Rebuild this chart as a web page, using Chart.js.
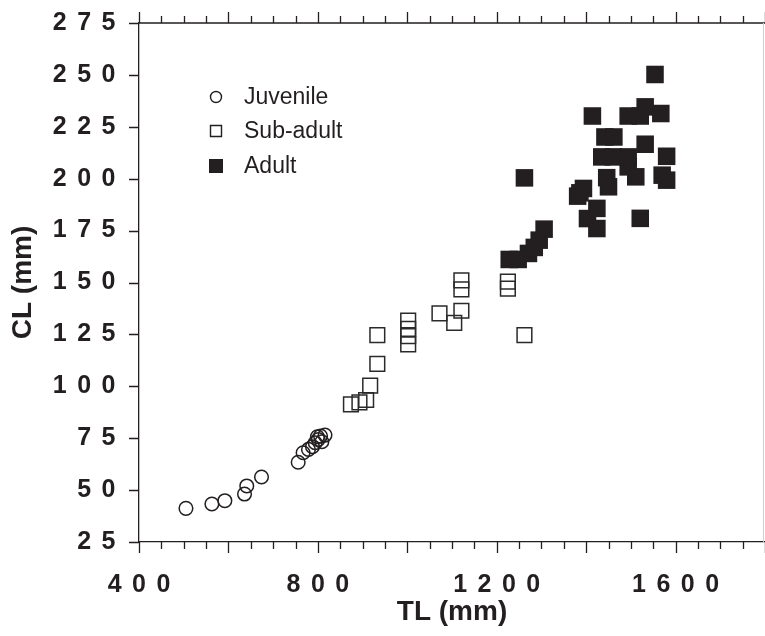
<!DOCTYPE html>
<html><head><meta charset="utf-8">
<script src="https://cdn.jsdelivr.net/npm/chart.js@4/dist/chart.umd.min.js"></script>
<style>html,body{margin:0;padding:0;background:#fff}#wrap{width:765px;height:636px}</style>
</head><body><div id="wrap"><canvas id="c" width="765" height="636"></canvas></div>
<script>
// ---- data ----
const seriesNames = ['Juvenile', 'Sub-adult', 'Adult'];
const juvTL = [505, 563, 592, 636, 641, 674, 756, 767, 779, 788, 794, 799, 801, 806, 809, 816];
const juvCL = [41.2, 43.3, 44.9, 48.1, 52.0, 56.3, 63.4, 68.0, 69.6, 70.9, 72.8, 75.7, 74.4, 76.0, 73.3, 76.5];
const subTL = [874, 893, 908, 917, 933, 933, 1002, 1002, 1002, 1002, 1072, 1105, 1121, 1121, 1121, 1225, 1225, 1262];
const subCL = [91.3, 92.3, 93.4, 100.3, 110.8, 124.7, 131.7, 127.7, 124.2, 120.2, 135.1, 130.6, 136.4, 151.0, 146.7, 150.4, 147.0, 124.7];
const adTL = [1228, 1248, 1271, 1284, 1295, 1306, 1262, 1381, 1386, 1394, 1403, 1424, 1424, 1446, 1450, 1414, 1435, 1442, 1462, 1461, 1494, 1494, 1494, 1511, 1521, 1521, 1532, 1532, 1554, 1567, 1570, 1580, 1580];
const adCL = [161.1, 161.1, 164.0, 166.9, 170.4, 175.7, 200.4, 191.6, 193.2, 195.3, 180.8, 185.7, 176.0, 200.5, 196.1, 230.2, 210.5, 220.1, 220.1, 210.5, 210.5, 205.7, 230.2, 200.9, 230.2, 180.9, 234.6, 216.6, 250.2, 231.4, 201.7, 210.8, 199.3];
const xTickLabels = [400, 800, 1200, 1600];
const xMinorStep = 50, xMajorStep = 200;
const yTickLabels = [25, 50, 75, 100, 125, 150, 175, 200, 225, 250, 275];
const xTitle = 'TL (mm)', yTitle = 'CL (mm)';

const INK = '#231f20';
const SPACING = 10.5;
const pts = (xs, ys) => xs.map((x, i) => ({x, y: ys[i]}));

const spacingPlugin = {
  id: 'spacing',
  afterDatasetsDraw(chart) { chart.ctx.letterSpacing = SPACING + 'px'; },
  afterDraw(chart) { chart.ctx.letterSpacing = '0px'; }
};

const framePlugin = {
  id: 'frame',
  afterDraw(chart) {
    const ctx = chart.ctx;
    const {left, right, top, bottom} = chart.chartArea;
    const xs = chart.scales.x, ys = chart.scales.y;
    ctx.save();
    ctx.letterSpacing = '0px';
    ctx.strokeStyle = INK; ctx.lineWidth = 1.3;
    ctx.beginPath();
    ctx.moveTo(left, top); ctx.lineTo(right, top);
    for (let v = xs.min; v <= xs.max; v += xMinorStep) {
      const px = Math.round(xs.getPixelForValue(v)) + 0.5;
      const len = (v % xMajorStep === 0) ? 11 : 7;
      ctx.moveTo(px, bottom); ctx.lineTo(px, bottom + len);
      ctx.moveTo(px, top); ctx.lineTo(px, top - len);
    }
    yTickLabels.forEach(v => {
      const py = Math.round(ys.getPixelForValue(v)) + 0.5;
      ctx.moveTo(left, py); ctx.lineTo(left - 10, py);
    });
    ctx.stroke();
    ctx.strokeStyle = '#cfcfcf'; ctx.lineWidth = 1;
    ctx.beginPath(); ctx.moveTo(right - 1.5, top); ctx.lineTo(right - 1.5, bottom); ctx.stroke();
    // legend
    const rows = [97, 131, 166];
    ctx.strokeStyle = INK;
    ctx.font = '23px "Liberation Sans", Arial, sans-serif';
    ctx.fillStyle = INK; ctx.textBaseline = 'middle'; ctx.textAlign = 'left';
    chart.data.datasets.forEach((ds, i) => {
      const cy = rows[i], cx = 216;
      ctx.beginPath();
      ctx.lineWidth = 1.4;
      if (i === 0) { ctx.arc(cx, cy, 5.5, 0, Math.PI * 2); ctx.stroke(); }
      else if (i === 1) { ctx.rect(cx - 5.5, cy - 5.5, 11, 11); ctx.stroke(); }
      else { ctx.fillRect(cx - 7, cy - 7, 14, 14); }
      ctx.fillText(ds.label, 244, cy + 1);
    });
    ctx.restore();
  }
};

const tickFont = {family: '"Liberation Sans", Arial, sans-serif', weight: 'bold', size: 25};
const titleFont = {family: '"Liberation Sans", Arial, sans-serif', weight: 'bold', size: 28};

new Chart(document.getElementById('c'), {
  type: 'scatter',
  data: {
    datasets: [
      {label: seriesNames[0], data: pts(juvTL, juvCL), pointStyle: 'circle', pointRadius: 6.8,
       borderColor: INK, backgroundColor: 'rgba(0,0,0,0)', borderWidth: 1.5},
      {label: seriesNames[1], data: pts(subTL, subCL), pointStyle: 'rect', pointRadius: 10.4,
       borderColor: '#2a2a2a', backgroundColor: 'rgba(0,0,0,0)', borderWidth: 1.5},
      {label: seriesNames[2], data: pts(adTL, adCL), pointStyle: 'rect', pointRadius: 12.4,
       borderColor: INK, backgroundColor: INK, borderWidth: 0}
    ]
  },
  options: {
    responsive: false, animation: false, devicePixelRatio: 1,
    layout: {autoPadding: false, padding: {top: 23, right: 0, bottom: 0, left: 0}},
    plugins: {legend: {display: false}, tooltip: {enabled: false}},
    scales: {
      x: {
        type: 'linear', position: 'bottom', min: 400, max: 1800,
        grid: {display: false},
        border: {display: true, color: INK, width: 1.3},
        ticks: {stepSize: 400, autoSkip: false, maxRotation: 0, padding: 20, labelOffset: SPACING / 2, z: 1,
                color: INK, font: tickFont,
                callback: v => xTickLabels.includes(v) ? String(v) : ''},
        title: {display: true, text: xTitle, color: INK, font: titleFont, padding: {top: 0, bottom: 7}},
        afterFit: s => { s.height = 94; s.paddingLeft = 0; s.paddingRight = 0; }
      },
      y: {
        type: 'linear', position: 'left', min: 25, max: 275,
        grid: {display: false},
        border: {display: true, color: INK, width: 1.3},
        ticks: {stepSize: 25, autoSkip: false, padding: 5, z: 1, color: INK, font: tickFont,
                callback: v => yTickLabels.includes(v) ? String(v) : ''},
        title: {display: true, text: yTitle, color: INK, font: titleFont, padding: {top: 6, bottom: 0}},
        afterFit: s => { s.width = 139; s.paddingTop = 0; s.paddingBottom = 0; }
      }
    }
  },
  plugins: [spacingPlugin, framePlugin]
});
</script></body></html>
